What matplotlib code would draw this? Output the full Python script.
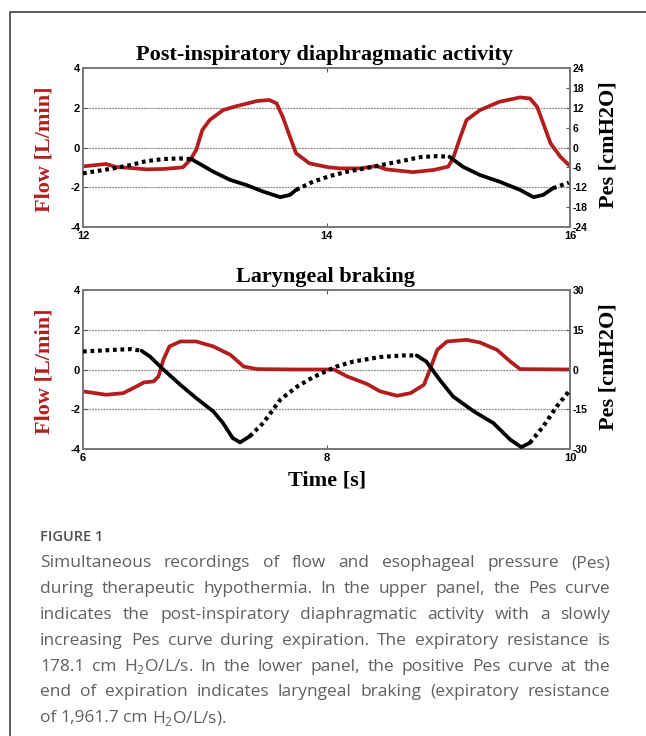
import numpy as np
import matplotlib
matplotlib.use("Agg")
import matplotlib.pyplot as plt
from matplotlib.lines import Line2D

# ---- data ----
# upper panel: flow (L/min) and Pes (cmH2O) vs time (s)
top_flow_t = [12.0, 12.19, 12.27, 12.39, 12.52, 12.66, 12.82, 12.88, 12.93, 12.98, 13.04,
              13.15, 13.26, 13.43, 13.53, 13.59, 13.64, 13.70, 13.75, 13.86, 14.02, 14.11,
              14.28, 14.41, 14.49, 14.71, 14.88, 15.0, 15.04, 15.10, 15.15, 15.26, 15.42,
              15.59, 15.67, 15.73, 15.78, 15.84, 15.92, 15.99]
top_flow = [-0.95, -0.83, -0.98, -1.03, -1.10, -1.08, -1.0, -0.63, -0.12, 0.88, 1.38,
            1.88, 2.08, 2.34, 2.39, 2.22, 1.55, 0.54, -0.29, -0.80, -1.0, -1.05,
            -1.05, -0.93, -1.10, -1.24, -1.13, -0.96, -0.54, 0.54, 1.38, 1.88, 2.30,
            2.52, 2.47, 2.05, 1.22, 0.21, -0.46, -0.88]

top_pes_t = [12.0, 12.25, 12.39, 12.52, 12.66, 12.79, 12.89, 13.07, 13.21, 13.34, 13.48,
             13.62, 13.70, 13.75, 13.89, 14.03, 14.17, 14.36, 14.49, 14.63, 14.77, 14.91,
             15.01, 15.12, 15.26, 15.42, 15.59, 15.70, 15.78, 15.86, 15.99]
top_pes = [-7.8, -6.3, -5.3, -4.1, -3.5, -3.3, -3.5, -7.3, -9.8, -11.3, -13.3,
           -15.0, -14.3, -12.8, -10.3, -8.6, -7.3, -6.0, -5.0, -4.0, -2.9, -2.6,
           -2.8, -5.8, -8.3, -10.3, -12.8, -15.0, -14.3, -12.3, -10.6]
# index ranges of the Pes trace: dotted = expiration, solid = inspiration
top_pes_parts = [(0, 6, "dot"), (6, 13, "solid"), (13, 22, "dot"), (22, 29, "solid"), (29, 30, "dot")]

# lower panel
bot_flow_t = [6.0, 6.19, 6.33, 6.44, 6.50, 6.58, 6.62, 6.66, 6.71, 6.80, 6.93, 7.07,
              7.21, 7.32, 7.43, 7.76, 8.06, 8.17, 8.33, 8.44, 8.58, 8.69, 8.80, 8.85,
              8.91, 8.99, 9.15, 9.26, 9.40, 9.51, 9.59, 10.0]
bot_flow = [-1.1, -1.27, -1.19, -0.85, -0.65, -0.6, -0.35, 0.49, 1.16, 1.41, 1.41, 1.16,
            0.74, 0.15, 0.02, 0.0, 0.0, -0.35, -0.72, -1.1, -1.32, -1.19, -0.77, 0.0,
            0.99, 1.41, 1.49, 1.36, 0.99, 0.40, 0.02, 0.0]

bot_pes_t = [6.0, 6.25, 6.39, 6.48, 6.55, 6.66, 6.80, 6.93, 7.07, 7.15, 7.23, 7.29,
             7.37, 7.48, 7.62, 7.76, 7.89, 8.0, 8.08, 8.22, 8.44, 8.63, 8.74, 8.82,
             8.93, 9.04, 9.21, 9.37, 9.51, 9.60, 9.67, 9.78, 9.89, 9.99]
bot_pes = [6.8, 7.4, 7.7, 7.1, 4.9, 0.0, -5.8, -10.8, -15.8, -20.2, -25.9, -27.5,
           -25.2, -20.2, -11.4, -6.4, -2.9, -0.6, 1.1, 3.0, 4.7, 5.3, 5.3, 3.0,
           -3.9, -10.2, -15.8, -20.2, -26.5, -29.3, -27.7, -21.5, -14.0, -8.3]
bot_pes_parts = [(0, 3, "dot"), (3, 12, "solid"), (12, 22, "dot"), (22, 30, "solid"), (30, 33, "dot")]

caption_lines = [
    "Simultaneous recordings of flow and esophageal pressure (Pes)",
    "during therapeutic hypothermia. In the upper panel, the Pes curve",
    "indicates the post-inspiratory diaphragmatic activity with a slowly",
    "increasing Pes curve during expiration. The expiratory resistance is",
    "178.1 cm H$_2$O/L/s. In the lower panel, the positive Pes curve at the",
    "end of expiration indicates laryngeal braking (expiratory resistance",
    "of 1,961.7 cm H$_2$O/L/s).",
]

RED = "#b21e1e"
W, H = 646, 736
plt.rcParams['mathtext.fontset'] = 'custom'
plt.rcParams['mathtext.rm'] = 'Open Sans'
plt.rcParams['axes.unicode_minus'] = False

fig = plt.figure(figsize=(W / 100, H / 100), dpi=100)


def fx(px):
    return px / W


def fy(py):
    return 1 - py / H


def panel(top, bottom, t, flow, pt, pes, parts, xlim, xticks, pes_lim, pes_ticks, title):
    ax = fig.add_axes([fx(83), fy(bottom), fx(570) - fx(83), fy(top) - fy(bottom)])
    ax2 = ax.twinx()
    ax.set_xlim(*xlim)
    ax.set_ylim(-4, 4)
    ax2.set_ylim(*pes_lim)
    for y in (2, 0, -2):
        ax.axhline(y, color="#8a8a8a", lw=0.9, ls=(0, (1.5, 0.8)), zorder=0)
    ax.plot(t, flow, color=RED, lw=2.7, solid_capstyle="round", solid_joinstyle="round", zorder=3)
    for i0, i1, style in parts:
        if style == "dot":
            ax2.plot(pt[i0:i1 + 1], pes[i0:i1 + 1], color="black", lw=3,
                     ls=(0, (0.9, 0.9)), dash_capstyle="butt", zorder=4)
        else:
            ax2.plot(pt[i0:i1 + 1], pes[i0:i1 + 1], color="black", lw=2.7,
                     solid_capstyle="round", solid_joinstyle="round", zorder=4)
    ax.set_xticks(xticks)
    ax.set_yticks([-4, -2, 0, 2, 4])
    ax2.set_yticks(pes_ticks)
    ax.tick_params(axis="x", direction="in", length=3, width=0.8, pad=3, labelsize=8,
                   top=True, color="#555")
    ax.tick_params(axis="y", direction="in", length=3, width=0.8, pad=2, labelsize=8, color="#555")
    ax2.tick_params(axis="y", direction="in", length=3, width=0.8, pad=2, labelsize=7.5, color="#555")
    for lab in ax.get_xticklabels() + ax.get_yticklabels() + ax2.get_yticklabels():
        lab.set_fontweight("bold")
        lab.set_family("Liberation Sans")
    for a in (ax, ax2):
        for s in a.spines.values():
            s.set_color("#7a7a7a")
            s.set_linewidth(1.3)
    ax2.set_zorder(ax.get_zorder() + 1)
    cy = (top + bottom) / 2
    fig.text(fx(45), fy(cy + 2), "Flow [L/min]", rotation=90, ha="center", va="center",
             family="Liberation Serif", weight="bold", fontsize=16, color=RED)
    fig.text(fx(608), fy(cy - 3), "Pes [cmH2O]", rotation=90, ha="center", va="center",
             family="Liberation Serif", weight="bold", fontsize=16, color="black")
    fig.text(fx(325), fy(top - 13), title, ha="center", va="center",
             family="Liberation Serif", weight="bold", fontsize=16)
    return ax


panel(68, 227, top_flow_t, top_flow, top_pes_t, top_pes, top_pes_parts,
      (12, 16), [12, 14, 16], (-24, 24), list(range(-24, 25, 6)),
      "Post-inspiratory diaphragmatic activity")
panel(290, 449, bot_flow_t, bot_flow, bot_pes_t, bot_pes, bot_pes_parts,
      (6, 10), [6, 8, 10], (-30, 30), [-30, -15, 0, 15, 30],
      "Laryngeal braking")

fig.text(fx(327), fy(481), "Time [s]", ha="center", va="center",
         family="Liberation Serif", weight="bold", fontsize=16)

# frame around the figure
fig.add_artist(Line2D([fx(9.5), fx(9.5), 1], [0, fy(11.5), fy(11.5)], color="#333", lw=1.1))

# caption
fig.text(fx(40), fy(537), "FIGURE 1", ha="left", va="center", family="Open Sans",
         weight="semibold", fontsize=10.5, color="#505050")

renderer = fig.canvas.get_renderer()
x_left, x_right = 40, 610
for k, line in enumerate(caption_lines):
    y = fy(563 + k * 25.9)
    words = line.split(" ")
    texts = [fig.text(0, y, w, ha="left", va="center", family="Open Sans", fontsize=12.5,
                      color="#606060") for w in words]
    widths = [tx.get_window_extent(renderer).width for tx in texts]
    if k < len(caption_lines) - 1:
        gap = (x_right - x_left - sum(widths)) / (len(words) - 1)
    else:
        gap = 4.0
    x = x_left
    for tx, wd in zip(texts, widths):
        tx.set_x(fx(x))
        x += wd + gap

fig.savefig("out.png", dpi=100)
